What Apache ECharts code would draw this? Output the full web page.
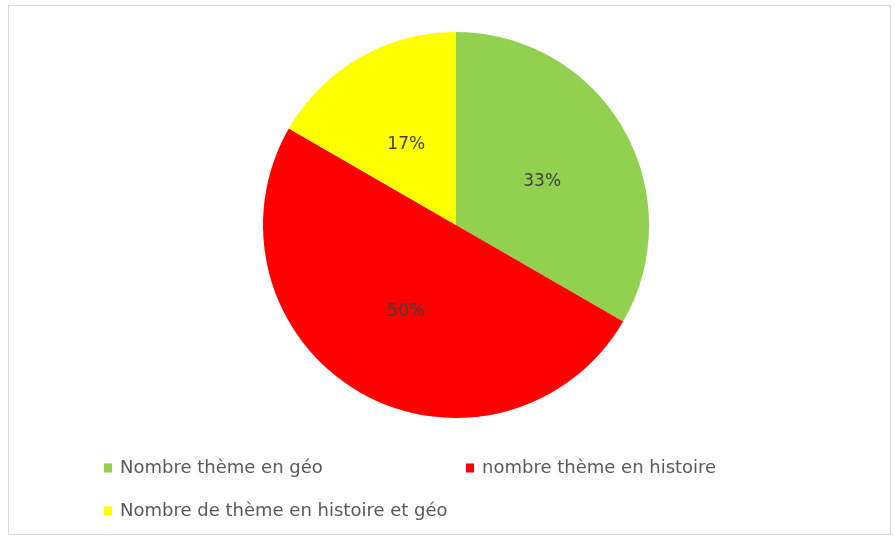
<!DOCTYPE html>
<html>
<head>
<meta charset="utf-8">
<script src="https://cdn.jsdelivr.net/npm/echarts@6/dist/echarts.min.js"></script>
<style>
html,body{margin:0;padding:0;background:#fff;}
#frame{position:absolute;left:8px;top:5px;width:883px;height:530px;border:1px solid #d9d9d9;box-sizing:border-box;}
#chart{position:absolute;left:0;top:0;width:895px;height:539px;}
</style>
</head>
<body>
<div id="frame"></div>
<div id="chart"></div>
<script>
const categories = ['Nombre thème en géo', 'nombre thème en histoire', 'Nombre de thème en histoire et géo'];
const values = [2, 3, 1];
const colors = ['#92D050', '#FF0000', '#FFFF00'];

const chart = echarts.init(document.getElementById('chart'));
const legendBase = {
  orient: 'horizontal',
  icon: 'rect',
  itemWidth: 8,
  itemHeight: 9,
  itemGap: 4,
  selectedMode: false,
  textStyle: { color: '#595959', fontSize: 18, fontFamily: 'DejaVu Sans', padding: [0, 0, 0, 3] }
};
chart.setOption({
  animation: false,
  backgroundColor: 'transparent',
  legend: [
    Object.assign({}, legendBase, { data: [categories[0]], left: 99, top: 454 }),
    Object.assign({}, legendBase, { data: [categories[1]], left: 461, top: 454 }),
    Object.assign({}, legendBase, { data: [categories[2]], left: 99, top: 497 })
  ],
  series: [{
    type: 'pie',
    center: [456, 225],
    radius: 193,
    startAngle: 90,
    clockwise: true,
    label: {
      position: 'inner',
      formatter: function (p) { return Math.round(p.percent) + '%'; },
      color: '#404040',
      fontSize: 17,
      fontFamily: 'DejaVu Sans'
    },
    labelLine: { show: false },
    emphasis: { disabled: true },
    data: categories.map((c, i) => ({
      name: c,
      value: values[i],
      itemStyle: { color: colors[i] },
      label: { offset: i === 1 ? [0, 0] : [0, 6] }
    }))
  }]
});
</script>
</body>
</html>
